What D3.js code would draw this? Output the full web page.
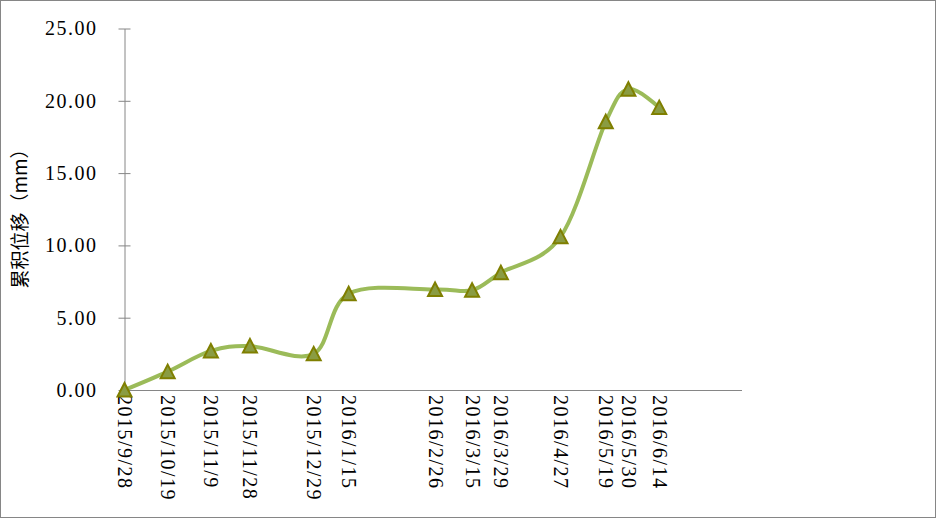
<!DOCTYPE html>
<html>
<head>
<meta charset="utf-8">
<script src="https://cdn.jsdelivr.net/npm/d3@7/dist/d3.min.js"></script>
<style>
  body { margin: 0; background: #fff; }
  svg { display: block; }
  .tick text { font-family: "Liberation Serif", "DejaVu Serif", serif; fill: #000; }
</style>
</head>
<body>
<svg width="937" height="519"></svg>
<script>
// survey dates and cumulative displacement (mm)
var dates = ["2015/9/28", "2015/10/19", "2015/11/9", "2015/11/28", "2015/12/29", "2016/1/15",
             "2016/2/26", "2016/3/15", "2016/3/29", "2016/4/27", "2016/5/19", "2016/5/30", "2016/6/14"];
var disp = [0.00, 1.27, 2.70, 3.04, 2.50, 6.66, 6.95, 6.90, 8.11, 10.59, 18.55, 20.80, 19.53];
var yTicks = [0, 5, 10, 15, 20, 25];
var xStart = "2015/9/28", xEnd = "2016/7/24";
var yTitle = "累积位移（mm）";

var parse = d3.timeParse("%Y/%m/%d");
var data = dates.map(function(d, i) { return { date: parse(d), label: d, v: disp[i] }; });

var svg = d3.select("svg");

// outer frame
svg.append("rect")
    .attr("x", 0.5).attr("y", 0.5)
    .attr("width", 935).attr("height", 517)
    .attr("fill", "#fff")
    .attr("stroke", "#868686");

var x = d3.scaleTime()
    .domain([parse(xStart), parse(xEnd)])
    .range([124.5, 741.5]);

var y = d3.scaleLinear()
    .domain([0, 25])
    .range([390, 28.5]);

// y axis
var yAxis = svg.append("g")
    .attr("transform", "translate(124.5,0)")
    .call(d3.axisLeft(y).tickValues(yTicks).tickFormat(d3.format(".2f")).tickSizeInner(6).tickSizeOuter(0).tickPadding(21));
yAxis.select(".domain").attr("stroke", "#868686");
yAxis.selectAll(".tick line").attr("x1", 6).attr("x2", -6).attr("stroke", "#868686");
yAxis.selectAll(".tick text").attr("font-size", 20).attr("letter-spacing", 1.5);

// x axis
var xAxis = svg.append("g")
    .attr("transform", "translate(0,390)")
    .call(d3.axisBottom(x).tickValues(data.map(function(d) { return d.date; }))
      .tickFormat(function(d, i) { return dates[i]; }).tickSize(0));
xAxis.select(".domain").attr("stroke", "#868686");
xAxis.selectAll(".tick text")
    .attr("font-size", 20)
    .attr("letter-spacing", 1.5)
    .attr("transform", "rotate(90)")
    .attr("text-anchor", "start")
    .attr("x", 5)
    .attr("y", 0)
    .attr("dy", "0.35em");

// y title
svg.append("text")
    .attr("transform", "translate(27,214) rotate(-90)")
    .attr("text-anchor", "middle")
    .attr("font-family", "Noto Sans CJK SC")
    .attr("font-size", 19)
    .attr("fill", "#000")
    .text(yTitle);

// smoothed line
var line = d3.line()
    .x(function(d) { return x(d.date); })
    .y(function(d) { return y(d.v); })
    .curve(d3.curveCardinal.tension(0));

svg.append("path")
    .datum(data)
    .attr("d", line)
    .attr("fill", "none")
    .attr("stroke", "#9bbb59")
    .attr("stroke-width", 4);

// triangle markers
svg.selectAll(".mk")
    .data(data)
    .enter().append("path")
    .attr("class", "mk")
    .attr("transform", function(d) { return "translate(" + x(d.date) + "," + y(d.v) + ")"; })
    .attr("d", "M0,-7 L7,6.5 L-7,6.5 Z")
    .attr("fill", "#8a9c42")
    .attr("stroke", "#7f7f00")
    .attr("stroke-width", 2);
</script>
</body>
</html>
